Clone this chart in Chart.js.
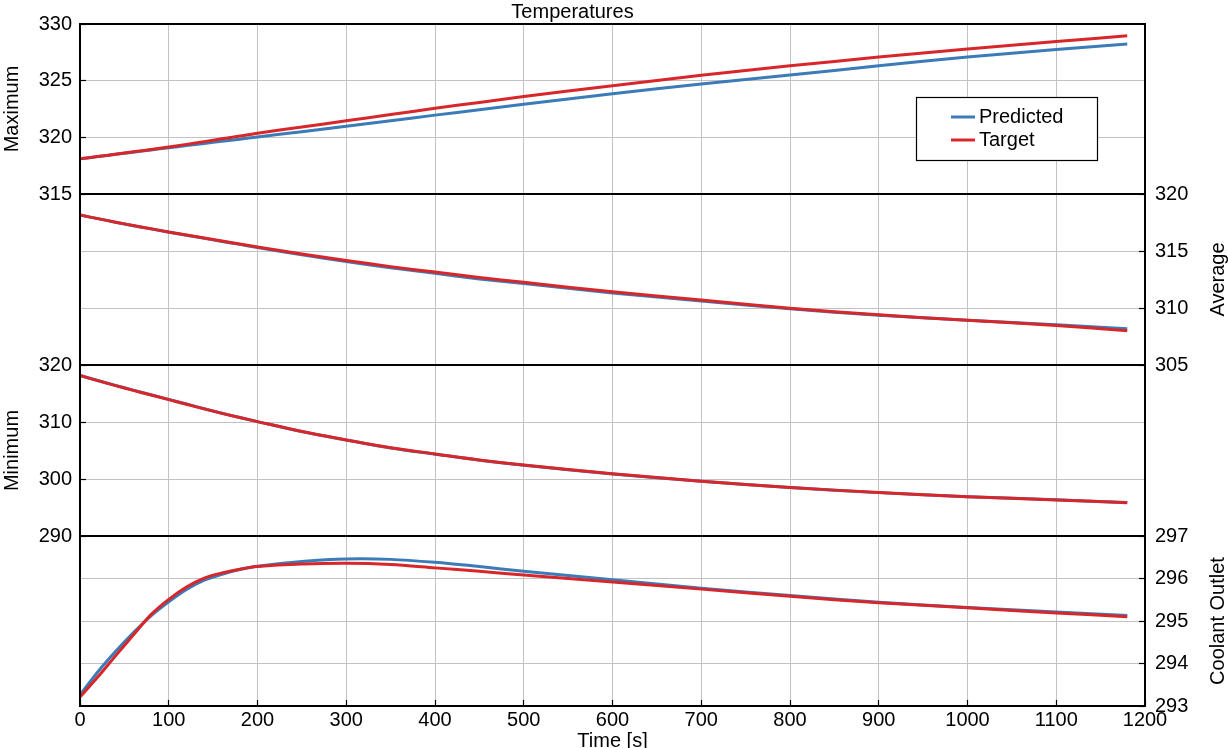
<!DOCTYPE html>
<html>
<head>
<meta charset="utf-8">
<title>Temperatures</title>
<script src="https://cdn.jsdelivr.net/npm/chart.js@4.4.0/dist/chart.umd.min.js"></script>
<style>
  html, body { margin: 0; padding: 0; background: #fff; overflow: hidden; }
  #wrap { position: relative; width: 1228px; height: 748px; overflow: hidden; }
  #wrap canvas { position: absolute; left: 0; }
</style>
</head>
<body>
<div id="wrap">
  <canvas id="cMax" width="1228" height="209" style="top:0"></canvas>
  <canvas id="cAvg" width="1228" height="201" style="top:179px"></canvas>
  <canvas id="cMin" width="1228" height="201" style="top:350px"></canvas>
  <canvas id="cCool" width="1228" height="235" style="top:521px"></canvas>
</div>
<script>
// time stamps [s]
const times = [0, 20, 40, 60, 80, 100, 120, 140, 160, 180, 200, 250, 300, 350, 400, 450, 500, 600, 700, 800, 900, 1000, 1100, 1180];

// Maximum
const maxPred   = [318.10, 318.30, 318.50, 318.69, 318.89, 319.08, 319.27, 319.46, 319.65, 319.84, 320.03, 320.50, 320.98, 321.47, 321.96, 322.44, 322.92, 323.84, 324.70, 325.50, 326.31, 327.08, 327.74, 328.24];
const maxTarget = [318.10, 318.30, 318.51, 318.72, 318.93, 319.14, 319.38, 319.62, 319.87, 320.11, 320.36, 320.91, 321.46, 322.01, 322.56, 323.08, 323.60, 324.55, 325.48, 326.31, 327.08, 327.80, 328.45, 328.96];

// Average
const avgPred   = [318.15, 317.84, 317.53, 317.22, 316.94, 316.65, 316.38, 316.11, 315.84, 315.58, 315.31, 314.66, 314.08, 313.53, 313.04, 312.55, 312.14, 311.32, 310.62, 309.93, 309.37, 308.92, 308.53, 308.18];
const avgTarget = [318.15, 317.84, 317.53, 317.23, 316.95, 316.67, 316.40, 316.14, 315.88, 315.62, 315.36, 314.73, 314.17, 313.63, 313.15, 312.68, 312.25, 311.42, 310.70, 309.98, 309.40, 308.92, 308.47, 308.00];

// Minimum
const minPred   = [318.15, 317.28, 316.42, 315.59, 314.77, 313.97, 313.15, 312.33, 311.54, 310.80, 310.07, 308.33, 306.83, 305.45, 304.36, 303.30, 302.42, 300.89, 299.59, 298.50, 297.61, 296.90, 296.35, 295.88];
const minTarget = [318.15, 317.25, 316.38, 315.55, 314.73, 313.93, 313.11, 312.30, 311.52, 310.78, 310.06, 308.33, 306.85, 305.48, 304.40, 303.33, 302.45, 300.92, 299.62, 298.52, 297.62, 296.90, 296.33, 295.85];

// Coolant outlet
const coolPred   = [293.26, 293.80, 294.28, 294.72, 295.12, 295.45, 295.74, 295.96, 296.10, 296.21, 296.29, 296.40, 296.46, 296.45, 296.38, 296.28, 296.17, 295.97, 295.77, 295.60, 295.44, 295.32, 295.21, 295.13];
const coolTarget = [293.21, 293.68, 294.18, 294.67, 295.15, 295.51, 295.80, 296.01, 296.13, 296.22, 296.28, 296.34, 296.36, 296.33, 296.25, 296.17, 296.08, 295.92, 295.75, 295.58, 295.43, 295.31, 295.19, 295.10];

const BLUE = '#3b7bb7';
const RED = '#d8272b';
const GRID = '#c2c2c2';
const FONT = "'Liberation Sans', Arial, Helvetica, sans-serif";

Chart.defaults.font.family = FONT;
Chart.defaults.font.size = 20;
Chart.defaults.color = '#000';

const pts = arr => times.map((t, i) => ({x: t, y: arr[i]}));

// black frame per panel, titles on the right side (read bottom-to-top), legend box
const panelDeco = {
  id: 'panelDeco',
  afterDraw(chart, args, opts) {
    const {ctx, chartArea: a} = chart;
    ctx.save();
    ctx.strokeStyle = '#000';
    ctx.lineWidth = 2;
    ctx.strokeRect(a.left, a.top, a.right - a.left, a.bottom - a.top);

    if (opts.rightTitle) {
      ctx.save();
      ctx.translate(chart.width - 10, (a.top + a.bottom) / 2);
      ctx.rotate(-Math.PI / 2);
      ctx.font = '20px ' + FONT;
      ctx.fillStyle = '#000';
      ctx.textAlign = 'center';
      ctx.textBaseline = 'middle';
      ctx.fillText(opts.rightTitle, 0, 0);
      ctx.restore();
    }

    if (opts.legend) {
      const L = a.right - 229, T = a.top + 73;
      ctx.fillStyle = '#fff';
      ctx.fillRect(L, T, 181, 63);
      ctx.lineWidth = 1.2;
      ctx.strokeStyle = '#000';
      ctx.strokeRect(L + 0.5, T + 0.5, 181, 63);
      ctx.font = '20px ' + FONT;
      ctx.textAlign = 'left';
      ctx.textBaseline = 'alphabetic';
      chart.data.datasets.forEach((ds, i) => {
        const y = T + 20 + i * 23;
        ctx.strokeStyle = ds.borderColor;
        ctx.lineWidth = 3;
        ctx.beginPath();
        ctx.moveTo(L + 35, y);
        ctx.lineTo(L + 59, y);
        ctx.stroke();
        ctx.fillStyle = '#000';
        ctx.fillText(ds.label, L + 63, y + 6);
      });
    }
    ctx.restore();
  }
};

function xAxis(bottom) {
  return {
    type: 'linear',
    min: 0,
    max: 1200,
    ticks: {stepSize: 100, display: bottom, padding: 8, maxRotation: 0, autoSkip: false, callback: v => String(v)},
    grid: {color: GRID, lineWidth: 1, drawTicks: bottom, tickLength: -6, tickColor: '#000', tickWidth: 1.2},
    border: {display: false},
    title: {display: bottom, text: 'Time [s]', padding: {top: 0, bottom: 3}},
    afterFit: s => {
      s.height = bottom ? 50 : 0;
      s.paddingLeft = 0;
      s.paddingRight = 0;
    }
  };
}

function yAxis(position, min, max, step, title) {
  const left = position === 'left';
  return {
    position,
    min,
    max,
    ticks: {stepSize: step, padding: left ? 14 : 16},
    grid: {color: GRID, lineWidth: 1, tickLength: -6, tickColor: '#000', tickWidth: 1.2},
    border: {display: false},
    title: {display: left, text: title, padding: 0},
    afterFit: s => {
      s.width = left ? 80 : 83;
      s.paddingTop = 0;
      s.paddingBottom = 0;
    }
  };
}

function panel(id, cfg) {
  return new Chart(document.getElementById(id), {
    type: 'line',
    data: {
      datasets: [
        {label: 'Predicted', data: pts(cfg.pred), borderColor: BLUE, order: 1},
        {label: 'Target', data: pts(cfg.target), borderColor: RED, order: 0}
      ]
    },
    options: {
      responsive: false,
      animation: false,
      layout: {padding: cfg.padding},
      elements: {
        line: {borderWidth: 3, tension: 0.3, fill: false},
        point: {radius: 0}
      },
      scales: {
        x: xAxis(!!cfg.bottom),
        y: yAxis(cfg.side, cfg.min, cfg.max, cfg.step, cfg.name)
      },
      plugins: {
        legend: {display: false},
        tooltip: {enabled: false},
        title: cfg.title
          ? {display: true, text: cfg.title, font: {size: 20, weight: 'normal'}, padding: 0, color: '#000'}
          : {display: false},
        panelDeco: {rightTitle: cfg.side === 'right' ? cfg.name : null, legend: !!cfg.legend}
      }
    },
    plugins: [panelDeco]
  });
}

panel('cMax', {
  pred: maxPred, target: maxTarget, side: 'left', min: 315, max: 330, step: 5,
  name: 'Maximum', title: 'Temperatures', legend: true,
  padding: {left: 0, right: 83, top: 0, bottom: 15}
});
panel('cAvg', {
  pred: avgPred, target: avgTarget, side: 'right', min: 305, max: 320, step: 5,
  name: 'Average',
  padding: {left: 80, right: 0, top: 15, bottom: 15}
});
panel('cMin', {
  pred: minPred, target: minTarget, side: 'left', min: 290, max: 320, step: 10,
  name: 'Minimum',
  padding: {left: 0, right: 83, top: 15, bottom: 15}
});
panel('cCool', {
  pred: coolPred, target: coolTarget, side: 'right', min: 293, max: 297, step: 1,
  name: 'Coolant Outlet', bottom: true,
  padding: {left: 80, right: 0, top: 15, bottom: 0}
});
</script>
</body>
</html>
